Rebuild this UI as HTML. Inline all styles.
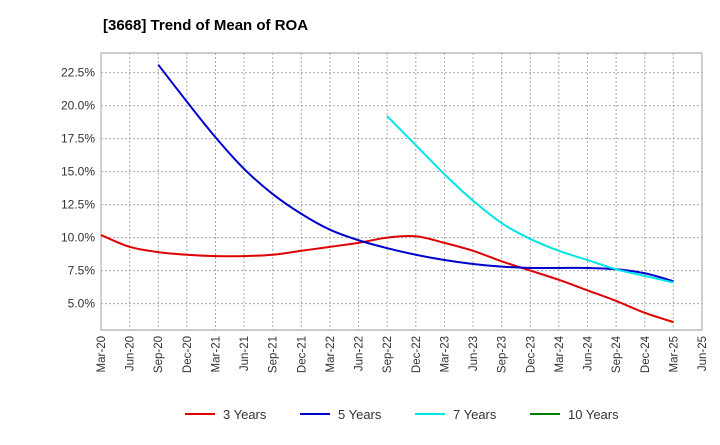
<!DOCTYPE html>
<html><head><meta charset="utf-8"><style>
body{margin:0;background:#fff;font-family:"Liberation Sans",sans-serif}
</style></head><body>
<svg id="c" width="720" height="440" xmlns="http://www.w3.org/2000/svg">
<text x="103" y="30" font-size="15" font-weight="bold" fill="#000">[3668]  Trend of Mean of ROA</text>
<g id="grid"></g><g id="axes"></g><g id="series"></g><g id="legend"></g>
</svg>
<script>
const xLabels=["Mar-20","Jun-20","Sep-20","Dec-20","Mar-21","Jun-21","Sep-21","Dec-21","Mar-22","Jun-22","Sep-22","Dec-22","Mar-23","Jun-23","Sep-23","Dec-23","Mar-24","Jun-24","Sep-24","Dec-24","Mar-25","Jun-25"];
const yTicks=[5.0,7.5,10.0,12.5,15.0,17.5,20.0,22.5];
const s3=[10.2,9.3,8.9,8.7,8.6,8.6,8.7,9.0,9.3,9.6,10.0,10.1,9.6,9.0,8.2,7.5,6.8,6.0,5.2,4.3,3.6];
const s5=[null,null,23.1,20.3,17.6,15.2,13.3,11.8,10.6,9.8,9.2,8.7,8.3,8.0,7.8,7.7,7.7,7.7,7.6,7.3,6.7];
const s7=[null,null,null,null,null,null,null,null,null,null,19.2,17.0,14.8,12.8,11.1,9.9,9.0,8.3,7.6,7.1,6.6];
const s10=[];
const names=["3 Years","5 Years","7 Years","10 Years"];
const colors=["#e00000","#0000cc","#00e5e5","#008000"];
const NS="http://www.w3.org/2000/svg";
const L=101,R=702,T=53,B=330;
const x=i=>L+i*(R-L)/(xLabels.length-1);
const y=v=>B-(v-3.0)*(33/2.5);
function mk(p,tag,a){const e=document.createElementNS(NS,tag);for(const k in a)e.setAttribute(k,a[k]);document.getElementById(p).appendChild(e);return e;}
const bg=mk("grid","rect",{x:L,y:T,width:R-L,height:B-T,fill:"#fff",stroke:"#999"});


xLabels.forEach((l,i)=>{
 const g=mk("grid","line",{x1:x(i),x2:x(i),y1:T,y2:B,stroke:"#aaa","stroke-dasharray":"2,2"});
 
 
 const t=mk("axes","text",{x:x(i)+4,y:B+6,"font-size":"11.5","text-anchor":"end",transform:`rotate(-90 ${x(i)+4} ${B+6})`,fill:"#333"});
 t.textContent=l;
 
 
});
yTicks.forEach(v=>{
 const g=mk("grid","line",{x1:L,x2:R,y1:y(v),y2:y(v),stroke:"#aaa","stroke-dasharray":"2,2"});
 
 
 const t=mk("axes","text",{x:L-6,y:y(v)+4,"font-size":"12","text-anchor":"end",fill:"#333"});
 t.textContent=v.toFixed(1)+"%";
 
 
});
[s3,s5,s7,s10].forEach((s,k)=>{
 const pts=[];s.forEach((v,i)=>{if(v!=null)pts.push([x(i),y(v)]);});
 if(pts.length<2)return;
 let d=`M${pts[0][0]},${pts[0][1]}`;
 for(let i=0;i<pts.length-1;i++){const p0=pts[i-1]||pts[i],p1=pts[i],p2=pts[i+1],p3=pts[i+2]||p2;
  d+=` C${p1[0]+(p2[0]-p0[0])/6},${p1[1]+(p2[1]-p0[1])/6} ${p2[0]-(p3[0]-p1[0])/6},${p2[1]-(p3[1]-p1[1])/6} ${p2[0]},${p2[1]}`;}
 const p=mk("series","path",{d:d,fill:"none",stroke:colors[k],"stroke-width":"2"});
 
 
});
const lx=[185,300,415,530];
names.forEach((n,k)=>{
 const l=mk("legend","line",{x1:lx[k],x2:lx[k]+30,y1:414,y2:414,stroke:colors[k],"stroke-width":"2"});
 
 
 const t=mk("legend","text",{x:lx[k]+38,y:419,"font-size":"13",fill:"#333"});
 t.textContent=n;
 
 
});
</script>
</body></html>
